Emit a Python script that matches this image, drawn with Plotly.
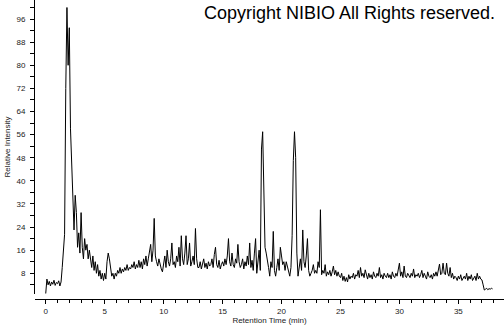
import plotly.graph_objects as go

# Retention time grid: start 0.0 min, 0.1 min step
t_start = 0.0
t_step = 0.1

# Relative intensity per minute block (10 samples each)
intensity = [
    # 0
    1.0, 6.0, 4.0, 5.2, 3.6, 5.0, 4.2, 5.6, 3.8, 4.8,
    # 1
    4.4, 5.4, 3.6, 5.0, 10, 18, 21.5, 72, 100, 80,
    # 2
    93, 58, 45, 36, 23, 35, 29, 17, 22, 15,
    # 3
    29, 17, 13, 20, 16, 18, 13, 16, 12, 10,
    # 4
    14, 9, 12, 8, 11, 7, 9, 6, 8, 5.5,
    # 5
    8, 6, 12, 15, 13, 9, 7, 8, 6, 8,
    # 6
    7, 9, 8, 10, 8, 9.5, 8.5, 10, 9, 11,
    # 7
    9, 10, 9.5, 11, 10, 12, 9.5, 11, 10, 12.5,
    # 8
    10, 12, 9.5, 13, 11, 14, 10.5, 13, 15, 18,
    # 9
    12, 16, 27, 14, 12, 10.5, 13, 11, 9.5, 8.5,
    # 10
    11, 14, 10, 16, 12, 10.5, 13, 18.5, 11, 12,
    # 11
    10, 14, 12, 17, 10.5, 21, 13, 11, 15, 21,
    # 12
    11, 13, 18.5, 10.5, 12, 14, 11, 23.5, 13, 10,
    # 13
    10, 12, 9.5, 11, 13, 10, 11.5, 9.5, 12, 10.5,
    # 14
    11, 13, 10, 14.5, 17, 11, 10, 12.5, 9.5, 11,
    # 15
    12, 10.5, 13, 11, 14, 20, 12, 10.5, 15, 11,
    # 16
    10, 13, 11.5, 18, 12, 10, 11, 13, 9.5, 12,
    # 17
    10.5, 14, 11, 18.5, 10, 12.5, 9, 15, 20, 8,
    # 18
    12, 16, 9, 51, 57, 40, 17, 15, 13, 10,
    # 19
    7, 12, 10, 22.5, 9, 7, 10, 13, 9, 17,
    # 20
    14, 11, 12, 9, 12, 10, 8, 7, 10, 21,
    # 21
    47, 57, 48, 15, 7, 10, 13, 9, 23, 12,
    # 22
    10, 14, 20, 9, 7, 8, 9, 11, 8, 9,
    # 23
    8, 12, 10, 30, 7.5, 9, 8, 11, 7, 8.5,
    # 24
    7.5, 9, 7, 8.5, 10.5, 7.5, 9, 7, 8.5, 7,
    # 25
    6.5, 8, 5.5, 7, 5.2, 6.5, 5, 7.5, 6, 7,
    # 26
    6.5, 8, 6, 7.5, 7, 9, 6.5, 10, 7, 8,
    # 27
    6.5, 9.2, 7.5, 6, 8, 6.5, 7.5, 6, 8.5, 7,
    # 28
    6.5, 8, 7, 10, 6.5, 7.5, 6, 8, 7, 6.5,
    # 29
    8, 6.5, 7.5, 6, 8.5, 7, 6.5, 8, 7, 9,
    # 30
    11.5, 7, 8.5, 6.5, 10.5, 7, 6.5, 8, 7, 6.5,
    # 31
    8, 7, 9.5, 6.5, 7.5, 7, 8, 6.5, 7.5, 9,
    # 32
    6.5, 8, 7, 6, 8.5, 7, 6.5, 7.5, 6, 8,
    # 33
    7, 8.5, 7, 9, 11.2, 7.5, 8, 11.5, 8, 7.5,
    # 34
    11.5, 8, 7, 10, 6.5, 8, 6, 7, 6.5, 5.5,
    # 35
    7, 6, 7.5, 5.5, 6.5, 7, 6, 8, 5.5, 7,
    # 36
    6, 7.5, 5.5, 6.5, 7, 5.5, 8, 6, 7, 6,
    # 37
    5.7, 4, 2.2, 2.5, 2.8, 2.3, 2.7, 2.5, 2.8, 2.6,
]
retention_time = [round(t_start + i * t_step, 2) for i in range(len(intensity))]

y_ticks = [8, 16, 24, 32, 40, 48, 56, 64, 72, 80, 88, 96]
x_ticks = [0, 5, 10, 15, 20, 25, 30, 35]

fig = go.Figure()
fig.add_trace(go.Scatter(
    x=retention_time, y=intensity, mode="lines",
    line=dict(color="black", width=1), showlegend=False,
))

tick_font = dict(family="Liberation Sans, Arial", size=8, color="#222")
fig.update_layout(
    width=504, height=325,
    margin=dict(l=35, r=0, t=0, b=24),
    paper_bgcolor="white", plot_bgcolor="white",
    xaxis=dict(
        range=[-0.91, 38.87], anchor="free", position=0,
        tickmode="array", tickvals=x_ticks, ticktext=[str(v) for v in x_ticks],
        ticks="outside", ticklen=4, tickcolor="black", tickwidth=1,
        minor=dict(dtick=1, tick0=0, ticks="outside", ticklen=3, tickcolor="black"),
        showline=True, linecolor="black", linewidth=1,
        showgrid=False, zeroline=False, tickfont=tick_font,
        title=dict(text="Retention Time (min)", font=dict(family="Liberation Sans, Arial", size=8, color="#222"), standoff=4),
    ),
    yaxis=dict(
        range=[0.86, 102.6], domain=[0.017, 1], anchor="x",
        tickmode="array", tickvals=y_ticks, ticktext=[str(v) for v in y_ticks],
        ticks="outside", ticklen=4, tickcolor="black", tickwidth=1,
        minor=dict(dtick=4, tick0=0, ticks="outside", ticklen=4, tickcolor="black"),
        showline=True, linecolor="black", linewidth=1,
        showgrid=False, zeroline=False, tickfont=tick_font, ticklabelstandoff=3,
        title=dict(text="Relative Intensity", font=dict(family="Liberation Sans, Arial", size=8, color="#222"), standoff=4),
    ),
    annotations=[dict(
        text="Copyright NIBIO All Rights reserved.", xref="paper", yref="paper",
        x=(497 - 35) / 469, y=1 - (13 - 0) / 301, xanchor="right", yanchor="middle",
        showarrow=False, font=dict(family="Liberation Sans, Arial", size=18, color="black"),
    )],
)

fig.write_html("out.html")
